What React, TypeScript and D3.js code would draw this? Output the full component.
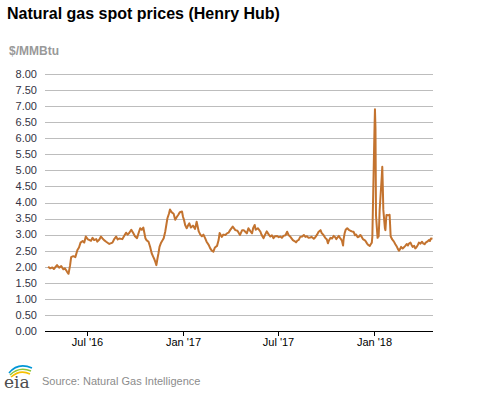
import React from "react";
import * as d3 from "d3";

const W = 477;
const H = 393;

const title = "Natural gas spot prices (Henry Hub)";
const unitLabel = "$/MMBtu";
const sourceText = "Source: Natural Gas Intelligence";

const yTicks = [0, 0.5, 1, 1.5, 2, 2.5, 3, 3.5, 4, 4.5, 5, 5.5, 6, 6.5, 7, 7.5, 8];
const xTickDates = ["2016-07-01", "2017-01-01", "2017-07-01", "2018-01-01"];
const xTickLabels = ["Jul '16", "Jan '17", "Jul '17", "Jan '18"];
const xDomain = ["2016-04-12", "2018-04-24"];

const dates = [
  "2016-04-18", "2016-04-22", "2016-04-26", "2016-04-29", "2016-05-05", "2016-05-09", "2016-05-13", "2016-05-17",
  "2016-05-20", "2016-05-24", "2016-05-27", "2016-05-30", "2016-06-01", "2016-06-05", "2016-06-09", "2016-06-13",
  "2016-06-16", "2016-06-19", "2016-06-23", "2016-06-26", "2016-06-29", "2016-07-03", "2016-07-09", "2016-07-12",
  "2016-07-15", "2016-07-19", "2016-07-21", "2016-07-25", "2016-07-28", "2016-07-31", "2016-08-03", "2016-08-07",
  "2016-08-13", "2016-08-19", "2016-08-22", "2016-08-26", "2016-08-29", "2016-09-01", "2016-09-07", "2016-09-10",
  "2016-09-14", "2016-09-17", "2016-09-20", "2016-09-24", "2016-09-28", "2016-10-01", "2016-10-05", "2016-10-08",
  "2016-10-11", "2016-10-14", "2016-10-17", "2016-10-21", "2016-10-23", "2016-10-27", "2016-10-30", "2016-11-02",
  "2016-11-05", "2016-11-07", "2016-11-09", "2016-11-11", "2016-11-13", "2016-11-15", "2016-11-17", "2016-11-20",
  "2016-11-23", "2016-11-25", "2016-11-28", "2016-11-30", "2016-12-02", "2016-12-05", "2016-12-07", "2016-12-10",
  "2016-12-14", "2016-12-17", "2016-12-20", "2016-12-23", "2016-12-26", "2016-12-30", "2017-01-01", "2017-01-03",
  "2017-01-05", "2017-01-08", "2017-01-11", "2017-01-13", "2017-01-16", "2017-01-20", "2017-01-24", "2017-01-27",
  "2017-01-31", "2017-02-03", "2017-02-06", "2017-02-09", "2017-02-12", "2017-02-15", "2017-02-19", "2017-02-22",
  "2017-02-25", "2017-02-28", "2017-03-03", "2017-03-07", "2017-03-10", "2017-03-12", "2017-03-16", "2017-03-19",
  "2017-03-23", "2017-03-26", "2017-03-29", "2017-04-01", "2017-04-06", "2017-04-11", "2017-04-15", "2017-04-18",
  "2017-04-20", "2017-04-24", "2017-04-27", "2017-04-30", "2017-05-03", "2017-05-06", "2017-05-10", "2017-05-13",
  "2017-05-15", "2017-05-18", "2017-05-20", "2017-05-24", "2017-05-29", "2017-05-31", "2017-06-04", "2017-06-07",
  "2017-06-10", "2017-06-14", "2017-06-17", "2017-06-20", "2017-06-23", "2017-06-26", "2017-06-30", "2017-07-03",
  "2017-07-06", "2017-07-09", "2017-07-12", "2017-07-16", "2017-07-19", "2017-07-22", "2017-07-25", "2017-07-30",
  "2017-08-02", "2017-08-05", "2017-08-08", "2017-08-10", "2017-08-13", "2017-08-17", "2017-08-20", "2017-08-23",
  "2017-08-26", "2017-08-29", "2017-09-01", "2017-09-04", "2017-09-08", "2017-09-11", "2017-09-14", "2017-09-17",
  "2017-09-21", "2017-09-23", "2017-09-26", "2017-09-28", "2017-09-30", "2017-10-03", "2017-10-05", "2017-10-07",
  "2017-10-10", "2017-10-13", "2017-10-16", "2017-10-19", "2017-10-21", "2017-10-24", "2017-10-26", "2017-10-28",
  "2017-10-30", "2017-11-01", "2017-11-03", "2017-11-04", "2017-11-06", "2017-11-08", "2017-11-11", "2017-11-14",
  "2017-11-17", "2017-11-20", "2017-11-23", "2017-11-26", "2017-11-28", "2017-12-01", "2017-12-03", "2017-12-06",
  "2017-12-09", "2017-12-11", "2017-12-14", "2017-12-16", "2017-12-19", "2017-12-21", "2017-12-24", "2017-12-26",
  "2017-12-28", "2017-12-29", "2018-01-02", "2018-01-03", "2018-01-04", "2018-01-05", "2018-01-08", "2018-01-09",
  "2018-01-10", "2018-01-11", "2018-01-12", "2018-01-16", "2018-01-17", "2018-01-18", "2018-01-19", "2018-01-22",
  "2018-01-23", "2018-01-24", "2018-01-25", "2018-01-29", "2018-01-31", "2018-02-01", "2018-02-02", "2018-02-05",
  "2018-02-08", "2018-02-11", "2018-02-14", "2018-02-16", "2018-02-18", "2018-02-20", "2018-02-22", "2018-02-25",
  "2018-02-27", "2018-03-02", "2018-03-05", "2018-03-07", "2018-03-09", "2018-03-12", "2018-03-14", "2018-03-16",
  "2018-03-19", "2018-03-21", "2018-03-23", "2018-03-26", "2018-03-28", "2018-03-31", "2018-04-03", "2018-04-05",
  "2018-04-08", "2018-04-10", "2018-04-13", "2018-04-16", "2018-04-18", "2018-04-20", "2018-04-23",
];

const prices = [
  2.0, 1.95, 1.98, 1.93, 2.05, 1.97, 2.02, 1.92,
  1.95, 1.85, 1.78, 2.05, 2.3, 2.33, 2.3, 2.52,
  2.6, 2.75, 2.8, 2.75, 2.94, 2.85, 2.81, 2.9,
  2.83, 2.86, 2.78, 2.85, 2.94, 2.88, 2.83, 2.78,
  2.71, 2.75, 2.85, 2.94, 2.85, 2.88, 2.86, 2.95,
  3.06, 3.0, 3.05, 3.15, 3.04, 2.95, 2.89, 3.05,
  3.2, 3.15, 3.22, 2.89, 2.83, 2.78, 2.62, 2.42,
  2.31, 2.24, 2.15, 2.05, 2.25, 2.42, 2.62, 2.75,
  2.83, 2.89, 3.1, 3.3, 3.5, 3.65, 3.78, 3.7,
  3.65, 3.46, 3.55, 3.62, 3.7, 3.72, 3.55, 3.45,
  3.3, 3.2, 3.3, 3.35, 3.22, 3.28, 3.18, 3.4,
  3.1, 3.0, 2.95, 3.0, 2.9, 2.78, 2.68, 2.57,
  2.5, 2.47, 2.6, 2.65, 2.83, 3.05, 2.93, 3.0,
  2.99, 3.04, 3.06, 3.14, 3.25, 3.14, 3.12, 3.04,
  2.99, 3.14, 3.14, 3.09, 3.04, 3.2, 3.1, 3.04,
  3.2, 3.3, 3.15, 3.2, 3.09, 3.0, 2.89, 3.0,
  3.1, 3.0, 2.94, 2.98, 2.89, 2.95, 2.96, 2.92,
  2.94, 2.9, 2.96, 2.98, 3.09, 2.98, 2.94, 2.83,
  2.8, 2.76, 2.82, 2.83, 2.93, 2.94, 2.99, 2.93,
  2.95, 2.9, 2.91, 2.93, 2.87, 2.92, 2.99, 3.08,
  3.14, 3.05, 3.0, 2.95, 2.9, 2.85, 2.73, 2.82,
  2.9, 2.88, 2.96, 2.92, 2.86, 2.92, 2.96, 2.9,
  2.86, 2.8, 2.66, 2.85, 3.04, 3.15, 3.2, 3.15,
  3.12, 3.1, 3.09, 2.98, 3.0, 2.92, 2.93, 2.99,
  2.92, 2.86, 2.83, 2.8, 2.72, 2.68, 2.65, 2.7,
  2.75, 2.94, 6.2, 6.9, 6.3, 3.6, 2.9, 2.95,
  2.94, 3.3, 3.77, 4.8, 5.11, 4.5, 3.77, 3.2,
  3.14, 3.4, 3.61, 3.6, 3.62, 3.3, 2.95, 2.85,
  2.79, 2.7, 2.62, 2.55, 2.5, 2.55, 2.62, 2.57,
  2.6, 2.65, 2.71, 2.66, 2.72, 2.75, 2.68, 2.62,
  2.65, 2.57, 2.6, 2.68, 2.75, 2.72, 2.78, 2.73,
  2.7, 2.75, 2.78, 2.83, 2.8, 2.88, 2.87,
];

const FONT = "'Liberation Sans', Arial, Helvetica, sans-serif";

export default function App() {
  const parse = d3.utcParse("%Y-%m-%d");
  const margin = { left: 45, right: 433, top: 74, bottom: 331 };

  const x = d3
    .scaleUtc()
    .domain([parse(xDomain[0])!, parse(xDomain[1])!])
    .range([margin.left, margin.right]);
  const y = d3.scaleLinear().domain([0, 8]).range([margin.bottom, margin.top]);

  const data = dates.map((d, i) => ({ date: parse(d)!, value: prices[i] }));
  const line = d3
    .line<{ date: Date; value: number }>()
    .x((d) => x(d.date))
    .y((d) => y(d.value));

  return (
    <svg
      width={W}
      height={H}
      style={{ position: "absolute", left: 0, top: 0, background: "#fff" }}
      fontFamily={FONT}
    >
      <rect x={0} y={0} width={W} height={H} fill="#fff" />
      <text x={7} y={19} fontSize={16} fontWeight="bold" fill="#000">
        {title}
      </text>
      <text x={9} y={55} fontSize={12} fontWeight="bold" fill="#999">
        {unitLabel}
      </text>

      {yTicks.map((t) => (
        <g key={t}>
          {t !== 0 && (
            <line
              x1={margin.left}
              x2={margin.right}
              y1={Math.round(y(t)) + 0.5}
              y2={Math.round(y(t)) + 0.5}
              stroke="#bdbdbd"
              strokeWidth={1}
            />
          )}
          <text
            x={37}
            y={y(t)}
            dy="0.35em"
            textAnchor="end"
            fontSize={11}
            fill="#333344"
          >
            {d3.format(".2f")(t)}
          </text>
        </g>
      ))}

      <path d={line(data) || ""} fill="none" stroke="#c3732f" strokeWidth={2} strokeLinejoin="round" />

      <line
        x1={margin.left}
        x2={margin.right}
        y1={Math.round(y(0)) + 0.5}
        y2={Math.round(y(0)) + 0.5}
        stroke="#000"
        strokeWidth={1}
      />
      {xTickDates.map((d, i) => {
        const xx = Math.round(x(parse(d)!)) + 0.5;
        return (
          <g key={d}>
            <line x1={xx} x2={xx} y1={y(0)} y2={y(0) + 5} stroke="#000" strokeWidth={1} />
            <text x={xx} y={346} textAnchor="middle" fontSize={11} fill="#000">
              {xTickLabels[i]}
            </text>
          </g>
        );
      })}

      <g>
        <path d="M9,373 Q18,362 32,368" fill="none" stroke="#0096d6" strokeWidth={1.6} />
        <path d="M10,375 Q19,366 31,371" fill="none" stroke="#8cc63f" strokeWidth={1.6} />
        <path d="M11,377 Q20,369 30,374" fill="none" stroke="#f6c000" strokeWidth={1.6} />
        <text x={4} y={388} fontSize={17} fill="#4d4d4d" fontFamily="'DejaVu Serif', 'Liberation Serif', serif">
          eia
        </text>
      </g>
      <text x={42} y={385} fontSize={11} fill="#8c8c8c">
        {sourceText}
      </text>
    </svg>
  );
}
